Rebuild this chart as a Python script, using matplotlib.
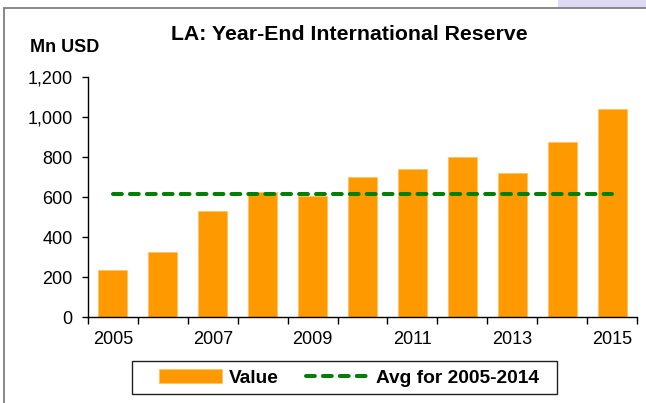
import matplotlib
matplotlib.use("Agg")
import matplotlib.pyplot as plt
from matplotlib.ticker import FuncFormatter, FixedLocator
from matplotlib.patches import Rectangle

years = [2005, 2006, 2007, 2008, 2009, 2010, 2011, 2012, 2013, 2014, 2015]
values = [235, 327, 530, 625, 607, 702, 740, 798, 718, 873, 1040]
avg_value = 616
title = "LA: Year-End International Reserve"
y_label = "Mn USD"
y_ticks = [0, 200, 400, 600, 800, 1000, 1200]

W, H = 646, 403
fig = plt.figure(figsize=(W / 100, H / 100), dpi=100)
plt.rcParams['font.family'] = ['Liberation Sans', 'DejaVu Sans']

def fx(px):
    return px / W

def fy(py):
    return 1 - py / H

# background lavender corner and outer border
fig.patches.append(Rectangle((fx(558), fy(8)), fx(646 - 558), 8 / H, transform=fig.transFigure,
                             facecolor="#DDDAF5", edgecolor="none", zorder=0))
fig.patches.append(Rectangle((fx(4), fy(420)), fx(700), (420 - 8) / H, transform=fig.transFigure,
                             facecolor="none", edgecolor="#7F7F7F", linewidth=1.3, zorder=1))

ax = fig.add_axes([fx(88), fy(317), fx(637 - 88), (317 - 77) / H])
x = list(range(len(years)))
bars = ax.bar(x, values, width=0.58, color="#FF9900", edgecolor="#FFC266", linewidth=0.6,
              label="Value", zorder=2)
line, = ax.plot(x, [avg_value] * len(years), color="#008000", linewidth=2.9,
                dashes=(2.2, 2.0), dash_capstyle="round", label="Avg for 2005-2014", zorder=3)

ax.set_xlim(-0.5, len(years) - 0.5)
ax.set_ylim(0, 1200)
ax.yaxis.set_major_locator(FixedLocator(y_ticks))
ax.yaxis.set_major_formatter(FuncFormatter(lambda v, p: f"{int(v):,}"))
ax.tick_params(axis="y", direction="out", length=4, width=1, labelsize=13, pad=7, color="black")

label_pos = [i for i in x if i % 2 == 0]
ax.set_xticks(label_pos)
ax.set_xticklabels([str(years[i]) for i in label_pos])
ax.set_xticks([i - 0.5 for i in range(len(years) + 1)], minor=True)
ax.tick_params(axis="x", which="major", length=0, labelsize=13, pad=10)
ax.tick_params(axis="x", which="minor", direction="out", length=5, width=1, color="black")

for s in ["top", "right"]:
    ax.spines[s].set_visible(False)
for s in ["left", "bottom"]:
    ax.spines[s].set_color("black")
    ax.spines[s].set_linewidth(1)

fig.text(fx(349), fy(35), title, ha="center", va="center", fontsize=15.3, fontweight="bold")
fig.text(fx(30), fy(48), y_label, ha="left", va="center", fontsize=13, fontweight="bold")

# legend frame
fig.patches.append(Rectangle((fx(132), fy(394)), fx(557 - 132), (394 - 361) / H,
                             transform=fig.transFigure, facecolor="white",
                             edgecolor="#222222", linewidth=1.0, zorder=2))
leg = fig.legend(handles=[bars, line], labels=["Value", "Avg for 2005-2014"], ncol=2,
                 loc="center", bbox_to_anchor=(fx(349), fy(378)), frameon=False,
                 handlelength=3.3, handleheight=0.7, handletextpad=0.35, columnspacing=1.45,
                 borderpad=0.3, borderaxespad=0, prop={"weight": "bold", "size": 13.8})
leg.set_zorder(5)

fig.savefig("out.png", dpi=100)
